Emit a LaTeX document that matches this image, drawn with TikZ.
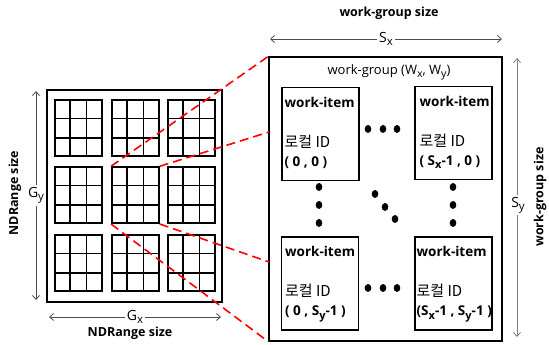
\documentclass[tikz,border=0pt]{standalone}
\usepackage{fontspec}
\setmainfont{Open Sans}
\newfontfamily\kr{Noto Sans CJK KR}
\usetikzlibrary{arrows.meta,calc}
% indice un peu plus grand que \textsubscript
\newcommand{\lowsub}[1]{\raisebox{-0.45ex}{\scalebox{0.82}{#1}}}

\begin{document}
\begin{tikzpicture}[x=1pt,y=1pt,
    box/.style={draw, line width=1.3pt, inner sep=0pt},
    cellline/.style={line width=1.7pt},
    item/.style={draw, line width=1.2pt, inner sep=0pt, minimum width=77pt, minimum height=93pt},
    itemtxt/.style={anchor=north west, align=left, inner sep=0pt, font=\fontsize{13.5}{19}\selectfont},
    dim/.style={{Straight Barb[length=4pt,width=7pt]}-{Straight Barb[length=4pt,width=7pt]}, black!70, line width=0.8pt},
    dimlbl/.style={fill=white, inner sep=2pt, font=\fontsize{14}{14}\selectfont},
    sizelbl/.style={font=\bfseries\fontsize{12.5}{12.5}\selectfont},
    zoomline/.style={red, line width=1.6pt, dash pattern=on 9pt off 5pt}]

\useasboundingbox (0,0) rectangle (549,345);

% NDRange : 3 x 3 work-groups de 3 x 3 cases
\def\bw{47}
\def\bh{56}
\node[box, minimum width=175pt, minimum height=212pt] (ndr) at (134.5,149) {};
\foreach \c/\x in {1/54,2/111,3/167}
  \foreach \r/\y in {1/188,2/121,3/53} {
    \node[box, cellline, minimum width=\bw pt, minimum height=\bh pt, anchor=south west] (b\r\c) at (\x,\y) {};
    \foreach \k in {1,2} {
      \draw[cellline] ($(b\r\c.south west)!\k/3!(b\r\c.south east)$) -- ($(b\r\c.north west)!\k/3!(b\r\c.north east)$);
      \draw[cellline] ($(b\r\c.south west)!\k/3!(b\r\c.north west)$) -- ($(b\r\c.south east)!\k/3!(b\r\c.north east)$);
    }
  }

% cotes du NDRange
\coordinate (gyT) at (36,254);
\coordinate (gyB) at (36,45);
\draw[dim] (gyT) -- (gyB);
\node[dimlbl] (gy) at ($(gyT)!0.5!(gyB)$) {G\lowsub{y}};
\node[sizelbl, rotate=90] (ndrV) at (15,152) {NDRange size};
\coordinate (gxL) at (49,28);
\coordinate (gxR) at (221,28);
\draw[dim] (gxL) -- (gxR);
\node[dimlbl] (gx) at ($(gxL)!0.5!(gxR)$) {G\lowsub{x}};
\node[sizelbl] (ndrH) at (130,12) {NDRange size};

% un work-group en detail
\node[box, minimum width=233pt, minimum height=284pt] (wg) at (385.5,146) {};
\node[font=\fontsize{13}{13}\selectfont] (wgname) at (389,273) {work-group (W\lowsub{x}, W\lowsub{y})};

\node[item] (w00) at (320.5,211) {};
\node[item] (w10) at (453.5,212) {};
\node[item] (w01) at (320,61.5) {};
\node[item] (w11) at (453.5,61.5) {};

\def\lid{{\kr\fontsize{15}{19}\selectfont 로컬 ID}}
\node[itemtxt] (t00) at ([xshift=3pt,yshift=-10pt]w00.north west)
  {\textbf{work-item}\\[21pt]\lid\\\textbf{( 0 , 0 )}};
\node[itemtxt] (t10) at ([xshift=5pt,yshift=-10pt]w10.north west)
  {\textbf{work-item}\\[21pt]\lid\\\textbf{( S\lowsub{x}-1 , 0 )}};
\node[itemtxt] (t01) at ([xshift=4pt,yshift=-10pt]w01.north west)
  {\textbf{work-item}\\[21pt]\lid\\\textbf{( 0 , S\lowsub{y}-1 )}};
\node[itemtxt] (t11) at ([xshift=2pt,yshift=-10pt]w11.north west)
  {\textbf{work-item}\\[21pt]\lid\\\textbf{(S\lowsub{x}-1 , S\lowsub{y}-1 )}};

% points de suspension
\foreach \x/\y in {368/216,383/216,397/216, 368/57,383/57,397/57,
                   319/158,319/140,319/122, 453/158,453/140,453/122,
                   375/151,385/138,395/126}
  \fill (\x,\y) ellipse (3.3 and 4);

% cotes du work-group
\node[sizelbl] (wgsizeH) at (389,332) {work-group size};
\coordinate (sxL) at (270,306);
\coordinate (sxR) at (502,306);
\draw[dim] (sxL) -- (sxR);
\node[dimlbl] (sx) at ($(sxL)!0.5!(sxR)$) {S\lowsub{x}};
\coordinate (syT) at (517,287);
\coordinate (syB) at (517,8);
\draw[dim, black!50] (syT) -- (syB);
\node[dimlbl] (sy) at (518,140) {S\lowsub{y}};
\node[sizelbl, rotate=90] (wgsizeV) at (540,148) {work-group size};

% zoom du work-group central
\coordinate (wgA) at (269,213);
\coordinate (wgB) at (269,83);
\draw[zoomline] (b22.north west) -- (wg.north west);
\draw[zoomline] (b22.north east) -- (wgA);
\draw[zoomline] (b22.south east) -- (wgB);
\draw[zoomline] (b22.south west) -- (wg.south west);
\end{tikzpicture}
\end{document}
